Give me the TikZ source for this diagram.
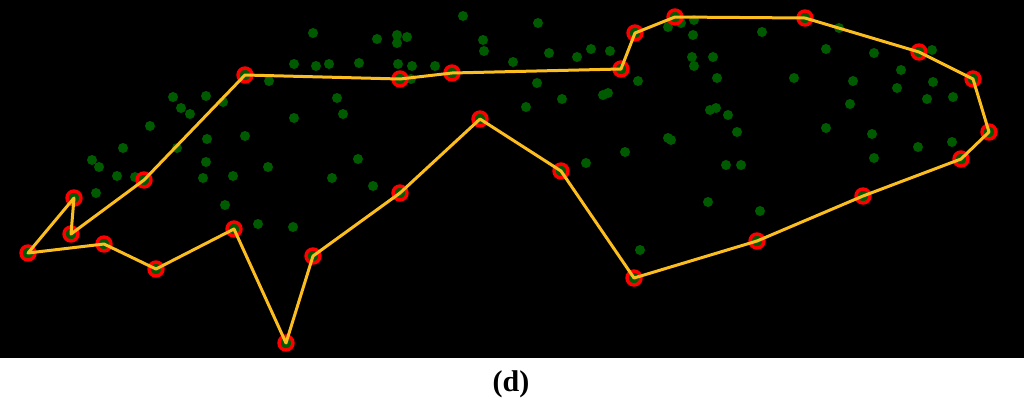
\documentclass[tikz,border=0pt]{standalone}
\usepackage{fontspec}
\setmainfont{Liberation Serif}
\definecolor{dotgreen}{RGB}{0,90,0}
\definecolor{hullyellow}{RGB}{252,190,30}
\begin{document}
\begin{tikzpicture}[x=1pt,y=-1pt,
  dotmark/.style={circle,fill=dotgreen,inner sep=0pt,minimum size=10pt},
  vtx/.style={circle,draw=red,line width=3.4pt,fill=dotgreen,inner sep=0pt,minimum size=14pt},
  hull/.style={draw=hullyellow,line width=3pt,line join=round,line cap=round},
  caption/.style={font=\bfseries\fontsize{30}{34}\selectfont,inner sep=0pt}]
\useasboundingbox (0,0) rectangle (1024,402);
\fill[black] (0,0) rectangle (1024,358);
% green points
\foreach \px/\py [count=\i] in {
 313/33,294/64,316/66,329/64,269/81,337/98,173/97,206/96,181/108,190/114,
 223/102,294/118,150/126,207/139,245/136,123/148,177/148,92/160,99/167,206/162,
 268/167,117/176,135/177,203/178,233/176,332/178,
 463/16,538/23,377/39,397/35,407/37,397/43,483/40,484/51,549/53,577/57,591/49,610/51,
 359/63,398/64,412/66,435/66,513/62,411/79,638/81,537/83,343/114,562/99,526/107,603/95,608/93,
 668/138,358/159,625/152,586/163,
 668/27,681/23,694/20,693/35,762/32,692/57,713/57,694/66,717/78,794/78,839/28,826/49,874/53,
 932/50,901/70,853/81,897/88,933/82,927/99,953/97,850/104,710/110,716/108,728/115,737/132,
 826/128,872/134,671/140,918/147,952/142,874/158,726/165,741/165,
 96/193,225/205,258/224,293/227,373/186,640/250,708/202,760/211}
  \node[dotmark] (p\i) at (\px,\py) {};
% hull vertices
\node[vtx] (v1) at (245,75) {};
\node[vtx] (v2) at (400,79) {};
\node[vtx] (v3) at (452,73) {};
\node[vtx] (v4) at (621,69) {};
\node[vtx] (v5) at (635,33) {};
\node[vtx] (v6) at (675,17) {};
\node[vtx] (v7) at (805,18) {};
\node[vtx] (v8) at (919,52) {};
\node[vtx] (v9) at (973,79) {};
\node[vtx] (v10) at (989,132) {};
\node[vtx] (v11) at (961,159) {};
\node[vtx] (v12) at (863,196) {};
\node[vtx] (v13) at (757,241) {};
\node[vtx] (v14) at (634,278) {};
\node[vtx] (v15) at (561,171) {};
\node[vtx] (v16) at (480,119) {};
\node[vtx] (v17) at (400,193) {};
\node[vtx] (v18) at (313,256) {};
\node[vtx] (v19) at (286,343) {};
\node[vtx] (v20) at (234,229) {};
\node[vtx] (v21) at (156,269) {};
\node[vtx] (v22) at (104,244) {};
\node[vtx] (v23) at (28,253) {};
\node[vtx] (v24) at (74,198) {};
\node[vtx] (v25) at (71,234) {};
\node[vtx] (v26) at (144,180) {};
\draw[hull] (v1.center) -- (v2.center) -- (v3.center) -- (v4.center) -- (v5.center)
  -- (v6.center) -- (v7.center) -- (v8.center) -- (v9.center) -- (v10.center)
  -- (v11.center) -- (v12.center) -- (v13.center) -- (v14.center) -- (v15.center)
  -- (v16.center) -- (v17.center) -- (v18.center) -- (v19.center) -- (v20.center)
  -- (v21.center) -- (v22.center) -- (v23.center) -- (v24.center) -- (v25.center)
  -- (v26.center) -- cycle;
\node[caption] (cap) at (511,384) {(d)};
\end{tikzpicture}
\end{document}
